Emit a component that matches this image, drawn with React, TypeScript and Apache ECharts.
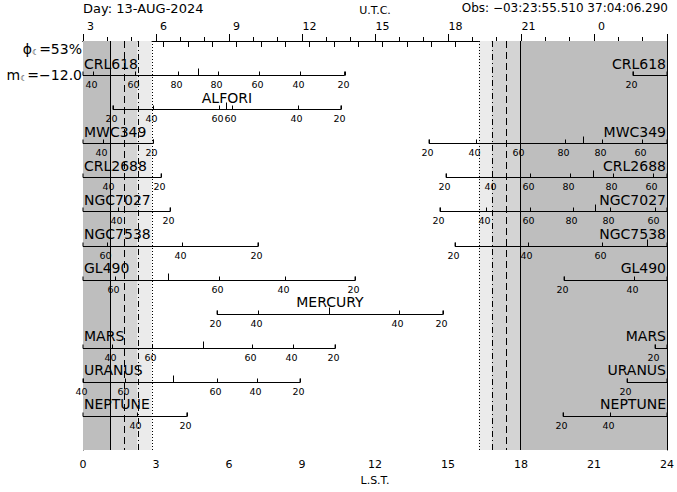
import React, { useEffect, useRef } from "react";
import * as echarts from "echarts";

const FONT = "DejaVu Sans";

const objectNames = ["CRL618", "ALFORI", "MWC349", "CRL2688", "NGC7027", "NGC7538", "GL490", "MERCURY", "MARS", "URANUS", "NEPTUNE"];

// visible segments: [object index, LST start, LST end]
const segments: number[][] = [
  [0, 0, 10.75], [0, 22.6, 24],
  [1, 1.23, 10.6],
  [2, 0, 2.89], [2, 14.22, 24],
  [3, 0, 3.21], [3, 14.92, 24],
  [4, 0, 3.58], [4, 14.67, 24],
  [5, 0, 7.19], [5, 15.29, 24],
  [6, 0, 11.18], [6, 19.77, 24],
  [7, 5.51, 14.79],
  [8, 0, 10.36], [8, 23.51, 24],
  [9, 0, 8.92], [9, 22.36, 24],
  [10, 0, 4.27], [10, 19.73, 24],
];

// elevation marks: [object index, LST, elevation (deg)]
const elevationMarks: number[][] = [
  [0, 0.41, 40], [0, 2.14, 60], [0, 3.9, 80], [0, 5.55, 80], [0, 7.23, 60], [0, 8.92, 40], [0, 10.75, 20], [0, 22.6, 20],
  [1, 1.23, 20], [1, 2.86, 40], [1, 5.59, 60], [1, 6.12, 60], [1, 8.84, 40], [1, 10.6, 20],
  [2, 0.82, 40], [2, 2.89, 20], [2, 14.22, 20], [2, 16.15, 40], [2, 17.96, 60], [2, 19.81, 80], [2, 21.33, 80], [2, 22.97, 60],
  [3, 1.11, 40], [3, 3.21, 20], [3, 14.92, 20], [3, 16.81, 40], [3, 18.37, 60], [3, 20.01, 80], [3, 21.78, 80], [3, 23.42, 60],
  [4, 1.44, 40], [4, 3.58, 20], [4, 14.67, 20], [4, 16.56, 40], [4, 18.37, 60], [4, 20.14, 80], [4, 21.66, 80], [4, 23.51, 60],
  [5, 0.99, 60], [5, 4.07, 40], [5, 7.19, 20], [5, 15.29, 20], [5, 18.3, 40], [5, 21.33, 60],
  [6, 1.32, 60], [6, 5.59, 60], [6, 8.3, 40], [6, 11.18, 20], [6, 19.77, 20], [6, 22.64, 40],
  [7, 5.51, 20], [7, 7.19, 40], [7, 12.99, 40], [7, 14.79, 20],
  [8, 1.19, 40], [8, 2.84, 60], [8, 6.95, 60], [8, 8.63, 40], [8, 10.36, 20], [8, 23.51, 20],
  [9, 0, 40], [9, 1.73, 60], [9, 5.51, 60], [9, 7.15, 40], [9, 8.92, 20], [9, 22.36, 20],
  [10, 2.22, 40], [10, 4.27, 20], [10, 19.73, 20], [10, 21.66, 40],
];

// transits: [object index, LST]
const transits: number[][] = [
  [0, 4.73], [1, 5.86], [2, 20.55], [3, 20.96], [4, 21.04], [5, 23.18], [6, 3.49], [7, 10.11], [8, 4.93], [9, 3.7],
];

// twilight times in LST hours
const morningTwilight = [1.11, 1.68, 2.24, 2.82]; // astronomical, nautical, civil, sunrise
const eveningTwilight = [16.27, 16.8, 17.38, 17.96]; // sunset, civil, nautical, astronomical

const utcAtLst0 = 2.69;
const utcTickValues = [3, 4, 5, 6, 7, 8, 9, 10, 11, 12, 13, 14, 15, 16, 17, 18, 19, 20, 21, 22, 23, 24, 25, 26];
const utcLabelValues = [3, 6, 9, 12, 15, 18, 21, 24];

const dayText = "Day: 13-AUG-2024";
const obsText = "Obs: \u221203:23:55.510 37:04:06.290";
const moonPhase = "=53%";
const moonMag = "=\u221212.0";

const ROWS = 12;

export default function App() {
  const ref = useRef<HTMLDivElement>(null);
  useEffect(() => {
    document.body.style.margin = "0";
    const chart = echarts.init(ref.current!, undefined, { renderer: "svg" });

    const shades = [
      [0, morningTwilight[0], 0],
      [morningTwilight[0], morningTwilight[2], 1],
      [morningTwilight[2], morningTwilight[3], 2],
      [eveningTwilight[0], eveningTwilight[1], 2],
      [eveningTwilight[1], eveningTwilight[3], 1],
      [eveningTwilight[3], 24, 0],
    ];
    const shadeColors = ["#bebebe", "#d4d4d4", "#ebebeb"];
    const vlines = [
      [morningTwilight[0], 0], [morningTwilight[1], 1], [morningTwilight[2], 2], [morningTwilight[3], 3],
      [eveningTwilight[3], 0], [eveningTwilight[2], 1], [eveningTwilight[1], 2], [eveningTwilight[0], 3],
    ];
    const dashes: any[] = [null, [7, 4], [6, 3, 1, 3], [1, 2]];

    const nameItems: any[] = [];
    segments.forEach((s) => {
      if (s[1] <= 0) nameItems.push([s[0], 0, 0]);
      if (s[2] >= 24) nameItems.push([s[0], 24, 1]);
      if (s[1] > 0 && s[2] < 24) nameItems.push([s[0], (s[1] + s[2]) / 2, 2]);
    });

    const black = "#000";
    const lineStyle = { stroke: black, lineWidth: 1 };

    const option: any = {
      animation: false,
      backgroundColor: "#fff",
      grid: { left: 83, right: 10, top: 37, bottom: 42, containLabel: false },
      xAxis: [
        {
          type: "value", min: 0, max: 24, interval: 3, position: "bottom",
          axisLine: { show: true, lineStyle: { color: black, width: 1 } },
          axisTick: { show: true, inside: true, length: 7, lineStyle: { color: black } },
          minorTick: { show: true, splitNumber: 3, length: 4, lineStyle: { color: black } },
          axisLabel: { color: black, fontSize: 11, fontFamily: FONT, margin: 9, showMinLabel: true, showMaxLabel: true },
          splitLine: { show: false },
          name: "L.S.T.", nameLocation: "middle", nameGap: 25,
          nameTextStyle: { color: black, fontSize: 11, fontFamily: FONT },
        },
        {
          type: "value", min: utcAtLst0, max: utcAtLst0 + 24, position: "top",
          axisLine: { show: true, lineStyle: { color: black, width: 1 } },
          axisTick: { show: true, inside: true, length: 6, customValues: utcTickValues, lineStyle: { color: black } },
          axisLabel: {
            color: black, fontSize: 11, fontFamily: FONT, margin: 9, customValues: utcLabelValues,
            formatter: (v: number) => String(Math.round(v) % 24),
          },
          splitLine: { show: false },
          name: "U.T.C.", nameLocation: "middle", nameGap: 25,
          nameTextStyle: { color: black, fontSize: 11, fontFamily: FONT },
        },
      ],
      yAxis: [
        {
          type: "value", min: 0, max: ROWS, inverse: true, position: "left",
          axisLine: { show: true, lineStyle: { color: black } },
          axisTick: { show: false }, axisLabel: { show: false }, splitLine: { show: false },
        },
        {
          type: "value", min: 0, max: ROWS, inverse: true, position: "right",
          axisLine: { show: true, lineStyle: { color: black } },
          axisTick: { show: false }, axisLabel: { show: false }, splitLine: { show: false },
        },
      ],
      graphic: [
        { type: "text", x: 83, y: 8, style: { text: dayText, fontSize: 13, fontFamily: FONT, fill: black, align: "left", verticalAlign: "middle" } },
        { type: "text", x: 668, y: 8, style: { text: obsText, fontSize: 12, fontFamily: FONT, fill: black, align: "right", verticalAlign: "middle" } },
        {
          type: "text", x: 82, y: 49,
          style: {
            text: "{p|\u03d5}{m|\u263e}{p|" + moonPhase + "}",
            rich: {
              p: { fontSize: 14, fontFamily: FONT, fill: black, color: black, verticalAlign: "bottom" },
              m: { fontSize: 8, fontFamily: FONT, fill: black, color: black, verticalAlign: "bottom" },
            },
            align: "right", verticalAlign: "middle",
          },
        },
        {
          type: "text", x: 82, y: 75,
          style: {
            text: "{p|m}{m|\u263e}{p|" + moonMag + "}",
            rich: {
              p: { fontSize: 14, fontFamily: FONT, fill: black, color: black, verticalAlign: "bottom" },
              m: { fontSize: 8, fontFamily: FONT, fill: black, color: black, verticalAlign: "bottom" },
            },
            align: "right", verticalAlign: "middle",
          },
        },
      ],
      series: [
        {
          type: "custom", name: "twilight", z: 1, silent: true,
          data: shades, encode: { x: [0, 1] },
          renderItem: (params: any, api: any) => {
            const a = api.coord([api.value(0), 0]);
            const b = api.coord([api.value(1), ROWS]);
            return {
              type: "rect",
              shape: { x: a[0], y: a[1], width: b[0] - a[0], height: b[1] - a[1] },
              style: { fill: shadeColors[api.value(2)] },
            };
          },
        },
        {
          type: "custom", name: "twilight lines", z: 2, silent: true,
          data: vlines, encode: { x: 0 },
          renderItem: (params: any, api: any) => {
            const a = api.coord([api.value(0), 0]);
            const b = api.coord([api.value(0), ROWS]);
            const x = Math.round(a[0]) + 0.5;
            const d = dashes[api.value(1)];
            return {
              type: "line",
              shape: { x1: x, y1: a[1], x2: x, y2: b[1] },
              style: { stroke: black, lineWidth: 1, lineDash: d || undefined },
            };
          },
        },
        {
          type: "custom", name: "segments", z: 3, silent: true,
          data: segments, encode: { x: [1, 2], y: 0 },
          renderItem: (params: any, api: any) => {
            const row = api.value(0) + 1;
            const a = api.coord([api.value(1), row]);
            const b = api.coord([api.value(2), row]);
            const y = Math.round(a[1]) + 0.5;
            return {
              type: "group",
              children: [
                { type: "line", shape: { x1: a[0], y1: y, x2: b[0], y2: y }, style: lineStyle },
                { type: "line", shape: { x1: a[0], y1: y, x2: a[0], y2: y - 4 }, style: lineStyle },
                { type: "line", shape: { x1: b[0], y1: y, x2: b[0], y2: y - 4 }, style: lineStyle },
              ],
            };
          },
        },
        {
          type: "custom", name: "transits", z: 3, silent: true,
          data: transits, encode: { x: 1, y: 0 },
          renderItem: (params: any, api: any) => {
            const p = api.coord([api.value(1), api.value(0) + 1]);
            const y = Math.round(p[1]) + 0.5;
            const x = Math.round(p[0]) + 0.5;
            return { type: "line", shape: { x1: x, y1: y, x2: x, y2: y - 7 }, style: lineStyle };
          },
        },
        {
          type: "custom", name: "elevations", z: 4, silent: true,
          data: elevationMarks, encode: { x: 1, y: 0 },
          renderItem: (params: any, api: any) => {
            const p = api.coord([api.value(1), api.value(0) + 1]);
            const y = Math.round(p[1]) + 0.5;
            const x = Math.round(p[0]) + 0.5;
            return {
              type: "group",
              children: [
                { type: "line", shape: { x1: x, y1: y, x2: x, y2: y - 4 }, style: lineStyle },
                {
                  type: "text", x: x - 2, y: y + 9,
                  style: {
                    text: String(api.value(2)), fill: black, fontSize: 9.5, fontFamily: FONT, lineHeight: 10,
                    align: "center", verticalAlign: "middle", textAlign: "center", textVerticalAlign: "middle",
                  },
                },
              ],
            };
          },
        },
        {
          type: "custom", name: "names", z: 4, silent: true,
          data: nameItems, encode: { x: 1, y: 0 },
          renderItem: (params: any, api: any) => {
            const p = api.coord([api.value(1), api.value(0) + 1]);
            const mode = api.value(2);
            const align = mode === 0 ? "left" : mode === 1 ? "right" : "center";
            const dx = mode === 0 ? 1 : mode === 1 ? -1 : 0;
            return {
              type: "text", x: p[0] + dx, y: p[1] - 11.5,
              style: {
                text: objectNames[api.value(0)], fill: black, fontSize: 14, fontFamily: FONT, lineHeight: 14,
                align, verticalAlign: "middle", textAlign: align, textVerticalAlign: "middle",
              },
            };
          },
        },
      ],
    };
    chart.setOption(option);
    return () => chart.dispose();
  }, []);
  return <div ref={ref} style={{ width: 677, height: 492 }} />;
}
